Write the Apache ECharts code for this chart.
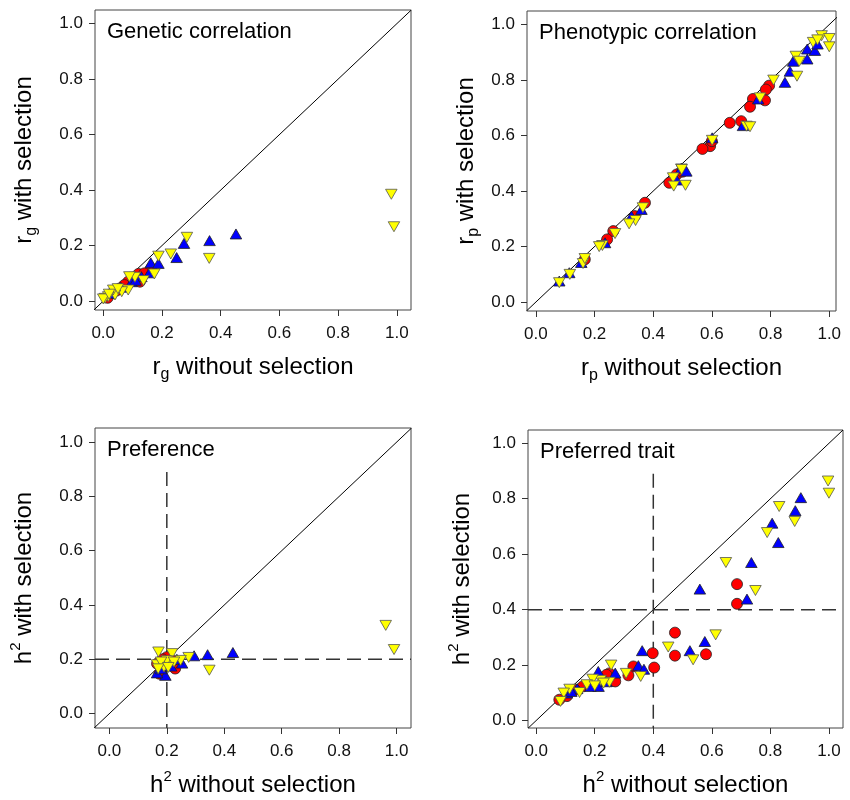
<!DOCTYPE html>
<html>
<head>
<meta charset="utf-8">
<style>
  html, body { margin: 0; padding: 0; background: #fff; }
  #chart { width: 850px; height: 800px; }
</style>
<script src="https://cdn.jsdelivr.net/npm/echarts@6/dist/echarts.min.js"></script>
</head>
<body>
<div id="chart"></div>
<script>
// Tick positions shared by every axis
const tickValues = [0, 0.2, 0.4, 0.6, 0.8, 1.0];

// Panel titles
const panelTitles = ['Genetic correlation', 'Phenotypic correlation', 'Preference', 'Preferred trait'];

// Genetic correlation: [without selection, with selection]
const geneticRed = [[0.163,0.118],[0.12,0.098],[0.125,0.07],[0.085,0.07],[0.057,0.046],[0.072,0.058],[0.03,0.028],[0.105,0.085],[0.14,0.1],[0.045,0.038],[0.015,0.012]];
const geneticBlue = [[0.275,0.208],[0.362,0.218],[0.452,0.242],[0.25,0.157],[0.162,0.138],[0.188,0.136],[0.157,0.102],[0.097,0.07],[0.023,0.028],[0.06,0.05],[0.13,0.088],[0.11,0.075]];
const geneticYellow = [[0.285,0.23],[0.361,0.154],[0.23,0.17],[0.188,0.162],[0.174,0.098],[0.137,0.074],[0.108,0.086],[0.089,0.088],[0.085,0.04],[0.063,0.034],[0.04,0.022],[0.034,0.04],[0.017,0.016],[0.006,0.01],[0.0,0.008],[0.02,0.025],[0.05,0.045],[0.981,0.385],[0.99,0.268]];

// Phenotypic correlation
const phenoRed = [[0.795,0.78],[0.784,0.766],[0.74,0.732],[0.781,0.727],[0.73,0.704],[0.661,0.646],[0.7,0.652],[0.594,0.562],[0.568,0.552],[0.48,0.46],[0.455,0.43],[0.372,0.358],[0.337,0.31],[0.264,0.256],[0.243,0.226],[0.167,0.154],[0.5,0.47],[0.6,0.58]];
const phenoBlue = [[0.925,0.912],[0.951,0.907],[0.877,0.868],[0.925,0.876],[0.866,0.832],[0.849,0.792],[0.758,0.732],[0.706,0.636],[0.601,0.592],[0.496,0.483],[0.513,0.472],[0.48,0.44],[0.36,0.334],[0.326,0.31],[0.236,0.214],[0.155,0.143],[0.114,0.106],[0.08,0.076],[0.96,0.93]];
const phenoYellow = [[0.974,0.96],[1.0,0.95],[1.0,0.92],[0.945,0.936],[0.886,0.886],[0.898,0.868],[0.89,0.814],[0.81,0.8],[0.764,0.736],[0.718,0.634],[0.73,0.632],[0.601,0.583],[0.496,0.48],[0.497,0.478],[0.468,0.448],[0.47,0.418],[0.51,0.421],[0.365,0.34],[0.34,0.294],[0.318,0.282],[0.27,0.247],[0.227,0.204],[0.216,0.2],[0.161,0.139],[0.167,0.157],[0.116,0.1],[0.08,0.07],[0.96,0.945]];

// Preference heritability
const prefRed = [[0.2,0.208],[0.229,0.166],[0.174,0.147],[0.166,0.184],[0.21,0.19],[0.185,0.2],[0.22,0.195]];
const prefBlue = [[0.43,0.225],[0.342,0.217],[0.295,0.213],[0.253,0.186],[0.195,0.141],[0.166,0.15],[0.215,0.175],[0.18,0.165],[0.235,0.2]];
const prefYellow = [[0.962,0.325],[0.991,0.236],[0.348,0.16],[0.276,0.207],[0.248,0.196],[0.171,0.227],[0.218,0.221],[0.19,0.172],[0.166,0.18],[0.21,0.185],[0.2,0.195],[0.18,0.19],[0.225,0.19],[0.17,0.165],[0.205,0.17]];

// Preferred trait heritability
const traitRed = [[0.686,0.492],[0.686,0.421],[0.474,0.317],[0.474,0.234],[0.58,0.239],[0.398,0.243],[0.403,0.191],[0.332,0.195],[0.315,0.163],[0.25,0.17],[0.261,0.143],[0.159,0.123],[0.133,0.111],[0.105,0.088],[0.079,0.075],[0.27,0.141],[0.24,0.165]];
const traitBlue = [[0.904,0.804],[0.885,0.757],[0.806,0.712],[0.827,0.642],[0.735,0.57],[0.559,0.474],[0.72,0.438],[0.576,0.285],[0.525,0.252],[0.362,0.252],[0.349,0.198],[0.368,0.185],[0.27,0.171],[0.212,0.177],[0.213,0.123],[0.185,0.123],[0.14,0.115],[0.105,0.099],[0.24,0.14],[0.12,0.105]];
const traitYellow = [[0.997,0.864],[1.0,0.82],[0.883,0.718],[0.83,0.772],[0.789,0.678],[0.648,0.57],[0.749,0.469],[0.613,0.309],[0.451,0.265],[0.536,0.219],[0.357,0.159],[0.307,0.17],[0.256,0.2],[0.25,0.138],[0.22,0.145],[0.193,0.149],[0.173,0.129],[0.148,0.101],[0.114,0.113],[0.094,0.099],[0.083,0.069],[0.23,0.135],[0.2,0.125]];

// Threshold guides (heritability of the unselected population)
const prefThreshold = 0.2;
const traitThreshold = 0.4;
const guideTop = 0.89;

const FONT = '"Liberation Sans", Arial, Helvetica, sans-serif';

// Axis-title text pieces: main text, sub/superscript
const richStyles = {
  m: { fontSize: 24, lineHeight: 32, fontFamily: FONT, color: '#000' },
  s: { fontSize: 16, lineHeight: 7, verticalAlign: 'bottom', fontFamily: FONT, color: '#000' },
  u: { fontSize: 15, lineHeight: 16, verticalAlign: 'top', fontFamily: FONT, color: '#000' }
};

const panels = [
  { grid: { left: 95, top: 10, width: 316, height: 300 }, x: [-0.028, 1.048], y: [-0.032, 1.049],
    xName: '{m|r}{s|g}{m| without selection}', yName: '{m|r}{s|g}{m| with selection}', yGap: 55,
    red: geneticRed, blue: geneticBlue, yellow: geneticYellow, title: panelTitles[0], guide: null },
  { grid: { left: 527, top: 11, width: 309, height: 300 }, x: [-0.03, 1.023], y: [-0.032, 1.049],
    xName: '{m|r}{s|p}{m| without selection}', yName: '{m|r}{s|p}{m| with selection}', yGap: 45,
    red: phenoRed, blue: phenoBlue, yellow: phenoYellow, title: panelTitles[1], guide: null },
  { grid: { left: 95, top: 428, width: 316, height: 300 }, x: [-0.05, 1.05], y: [-0.053, 1.052],
    xName: '{m|h}{u|2}{m| without selection}', yName: '{m|h}{u|2}{m| with selection}', yGap: 55,
    red: prefRed, blue: prefBlue, yellow: prefYellow, title: panelTitles[2], guide: prefThreshold },
  { grid: { left: 528, top: 430, width: 315, height: 298 }, x: [-0.028, 1.048], y: [-0.027, 1.048],
    xName: '{m|h}{u|2}{m| without selection}', yName: '{m|h}{u|2}{m| with selection}', yGap: 50,
    red: traitRed, blue: traitBlue, yellow: traitYellow, title: panelTitles[3], guide: traitThreshold }
];

const grids = [], xAxes = [], yAxes = [], series = [], graphics = [];

function axisCommon(range) {
  return {
    type: 'value', min: range[0], max: range[1],
    axisLine: { show: false, onZero: false },
    splitLine: { show: false },
    axisTick: { show: true, inside: false, length: 6, customValues: tickValues,
                lineStyle: { color: '#333', width: 1 } },
    axisLabel: { customValues: tickValues, fontSize: 17, fontFamily: FONT, color: '#111',
                 formatter: v => v.toFixed(1) }
  };
}

panels.forEach((p, i) => {
  grids.push(Object.assign({ show: true, borderColor: '#444', borderWidth: 1, backgroundColor: '#fff' }, p.grid));

  const xa = axisCommon(p.x);
  xa.gridIndex = i;
  xa.position = 'bottom';
  xa.axisLabel.margin = 15;
  xa.name = p.xName;
  xa.nameLocation = 'middle';
  xa.nameGap = 41;
  xa.nameTextStyle = { rich: richStyles };
  xAxes.push(xa);

  const ya = axisCommon(p.y);
  ya.gridIndex = i;
  ya.position = 'left';
  ya.axisLabel.margin = 12;
  ya.name = p.yName;
  ya.nameLocation = 'middle';
  ya.nameGap = p.yGap;
  ya.nameTextStyle = { rich: richStyles };
  yAxes.push(ya);

  // 1:1 line
  const lo = Math.min(p.x[0], p.y[0]), hi = Math.max(p.x[1], p.y[1]);
  series.push({
    type: 'line', xAxisIndex: i, yAxisIndex: i, silent: true, showSymbol: false, symbol: 'none',
    data: [[lo, lo], [hi, hi]], lineStyle: { color: '#000', width: 1 }, z: 1, clip: true
  });

  // threshold guides
  if (p.guide !== null) {
    const dash = { color: '#333', width: 1.5, type: [14, 7] };
    series.push({
      type: 'line', xAxisIndex: i, yAxisIndex: i, silent: true, showSymbol: false, symbol: 'none',
      data: [[p.guide, guideTop], [p.guide, p.y[0]]], lineStyle: dash, z: 1, clip: true
    });
    series.push({
      type: 'line', xAxisIndex: i, yAxisIndex: i, silent: true, showSymbol: false, symbol: 'none',
      data: [[p.x[0], p.guide], [p.x[1], p.guide]], lineStyle: dash, z: 1, clip: true
    });
  }

  series.push({
    type: 'scatter', xAxisIndex: i, yAxisIndex: i, data: p.red, symbol: 'circle', symbolSize: 11,
    itemStyle: { color: '#ff0000', borderColor: '#222', borderWidth: 0.8, opacity: 1 }, z: 3
  });
  series.push({
    type: 'scatter', xAxisIndex: i, yAxisIndex: i, data: p.blue, symbol: 'triangle', symbolSize: [11.5, 10],
    itemStyle: { color: '#0000ff', borderColor: '#222', borderWidth: 0.8, opacity: 1 }, z: 4
  });
  series.push({
    type: 'scatter', xAxisIndex: i, yAxisIndex: i, data: p.yellow, symbol: 'triangle', symbolRotate: 180,
    symbolSize: [11.5, 10],
    itemStyle: { color: '#ffff00', borderColor: '#555', borderWidth: 0.8, opacity: 1 }, z: 5
  });

  graphics.push({
    type: 'text', x: p.grid.left + 12, y: p.grid.top + 22, z: 10,
    style: { text: p.title, fontSize: 22, fontFamily: FONT, fill: '#000', verticalAlign: 'middle', align: 'left' }
  });
});

const chart = echarts.init(document.getElementById('chart'), null, { renderer: 'canvas' });
chart.setOption({
  animation: false,
  backgroundColor: '#fff',
  grid: grids,
  xAxis: xAxes,
  yAxis: yAxes,
  series: series,
  graphic: graphics
});
</script>
</body>
</html>
